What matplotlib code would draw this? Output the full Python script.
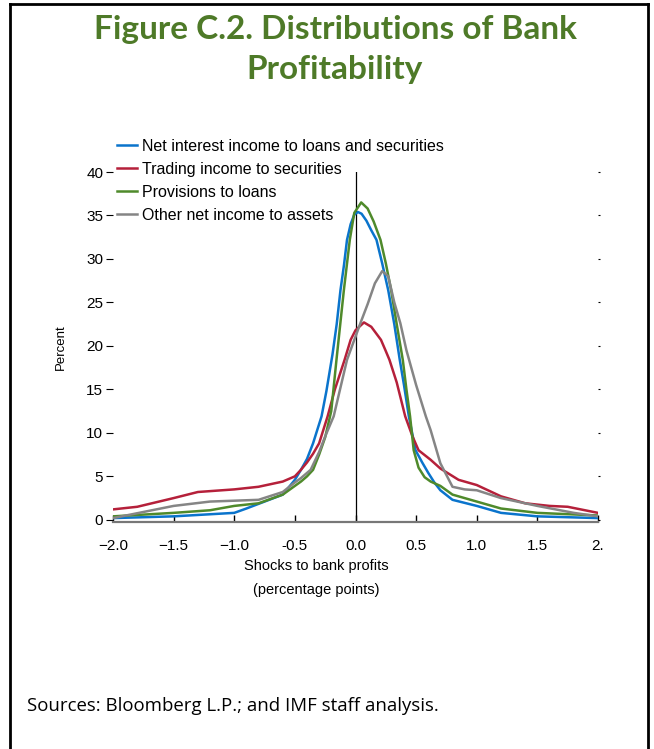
import matplotlib
matplotlib.use("Agg")
import matplotlib.pyplot as plt
from matplotlib.lines import Line2D

# ---- data ----
x_net = [-2.0, -1.5, -1.0, -0.9, -0.75, -0.6, -0.5, -0.45, -0.4, -0.35, -0.28, -0.24, -0.19, -0.155, -0.124,
         -0.095, -0.07, -0.04, -0.01, 0.02, 0.05, 0.09, 0.13, 0.173, 0.22, 0.27, 0.32, 0.365, 0.4, 0.44, 0.495,
         0.55, 0.6, 0.65, 0.7, 0.8, 1.0, 1.2, 1.5, 2.0]
y_net = [0.2, 0.4, 0.8, 1.3, 2.1, 2.9, 4.6, 5.75, 7.0, 8.8, 11.9, 14.8, 19.0, 22.5, 26.4,
         29.3, 32.2, 34.0, 35.1, 35.4, 35.2, 34.4, 33.3, 32.2, 29.5, 26.4, 22.5, 18.4, 15.5, 11.9, 8.0,
         6.6, 5.4, 4.3, 3.4, 2.3, 1.6, 0.8, 0.4, 0.2]

x_trd = [-2.0, -1.8, -1.5, -1.3, -1.0, -0.8, -0.6, -0.5, -0.45, -0.4, -0.35, -0.3, -0.23, -0.17, -0.09,
         -0.04, 0.0, 0.07, 0.13, 0.21, 0.247, 0.28, 0.34, 0.41, 0.47, 0.52, 0.62, 0.7, 0.85, 1.0, 1.2, 1.4,
         1.6, 1.75, 2.0]
y_trd = [1.2, 1.5, 2.5, 3.2, 3.5, 3.8, 4.4, 5.0, 5.75, 6.6, 7.6, 8.8, 11.9, 15.0, 18.4,
         20.7, 21.8, 22.7, 22.2, 20.7, 19.5, 18.4, 15.8, 11.9, 9.6, 8.0, 6.9, 5.9, 4.6, 4.0, 2.7, 1.9,
         1.6, 1.5, 0.8]

x_prv = [-2.0, -1.5, -1.2, -1.0, -0.8, -0.6, -0.5, -0.45, -0.4, -0.35, -0.3, -0.25, -0.2, -0.157, -0.096,
         -0.047, -0.01, 0.047, 0.1, 0.15, 0.206, 0.25, 0.294, 0.34, 0.39, 0.42, 0.45, 0.48, 0.52, 0.57, 0.62,
         0.7, 0.75, 0.8, 1.0, 1.2, 1.5, 2.0]
y_prv = [0.4, 0.8, 1.1, 1.6, 1.9, 2.9, 3.9, 4.4, 5.0, 5.75, 7.5, 9.5, 12.5, 18.4, 26.4,
         32.2, 35.3, 36.5, 35.8, 34.3, 32.2, 29.5, 26.4, 22.5, 18.4, 15.0, 11.9, 8.0, 6.0, 4.9, 4.4,
         3.9, 3.4, 2.9, 2.1, 1.3, 0.8, 0.5]

x_oth = [-2.0, -1.5, -1.2, -1.0, -0.8, -0.6, -0.5, -0.45, -0.37, -0.3, -0.25, -0.18, -0.07, 0.04, 0.1,
         0.16, 0.22, 0.27, 0.32, 0.37, 0.42, 0.5, 0.58, 0.62, 0.7, 0.8, 0.9, 1.0, 1.2, 1.5, 1.8, 2.0]
y_oth = [0.2, 1.6, 2.1, 2.2, 2.3, 3.2, 4.3, 4.8, 5.75, 7.8, 9.6, 11.9, 18.4, 22.6, 24.8,
         27.2, 28.6, 28.0, 25.0, 22.6, 19.5, 15.5, 11.9, 10.3, 6.5, 3.8, 3.5, 3.4, 2.5, 1.6, 0.8, 0.4]

series_labels = ["Net interest income to loans and securities",
                 "Trading income to securities",
                 "Provisions to loans",
                 "Other net income to assets"]
x_ticks = [-2.0, -1.5, -1.0, -0.5, 0.0, 0.5, 1.0, 1.5, 2.0]
x_ticklabels = ["\u22122.0", "\u22121.5", "\u22121.0", "-0.5", "0.0", "0.5", "1.0", "1.5", "2."]
y_ticks = [0, 5, 10, 15, 20, 25, 30, 35, 40]

colors = ["#0A74CC", "#B5203A", "#4F8A2B", "#858585"]

W, H = 654, 749
fig = plt.figure(figsize=(W / 100, H / 100), dpi=100)

def fx(px):
    return px / W

def fy(py):
    return 1 - py / H

# frame around figure
fig.add_artist(Line2D([fx(10), fx(10)], [0, fy(4)], color="black", lw=2))
fig.add_artist(Line2D([fx(10), fx(648)], [fy(4), fy(4)], color="black", lw=2))
fig.add_artist(Line2D([fx(648), fx(648)], [0, fy(4)], color="black", lw=2))

title_color = "#4E7A28"
fig.text(fx(335), fy(30), "Figure C.2. Distributions of Bank", ha="center", va="center",
         fontsize=24, fontweight="bold", color=title_color, family="Lato")
fig.text(fx(335), fy(70), "Profitability", ha="center", va="center",
         fontsize=24, fontweight="bold", color=title_color, family="Lato")

left, right, top, bottom = 113, 598, 172, 522
ax = fig.add_axes([fx(left), fy(bottom), (right - left) / W, (bottom - top) / H])
ax.set_xlim(-2.0, 2.0)
ax.set_ylim(-0.25, 40)

xs = [x_net, x_trd, x_prv, x_oth]
ys = [y_net, y_trd, y_prv, y_oth]
handles = []
for xv, yv, c, lab in zip(xs, ys, colors, series_labels):
    h, = ax.plot(xv, yv, color=c, lw=1.8, label=lab, solid_joinstyle="round")
    handles.append(h)

ax.axvline(0, color="black", lw=0.9, zorder=1)

for s in ["top", "right", "left"]:
    ax.spines[s].set_visible(False)
ax.spines["bottom"].set_color("#777777")
ax.spines["bottom"].set_linewidth(1.6)

tick_font = dict(family="Liberation Sans", size=11)
ax.set_xticks(x_ticks)
ax.set_xticklabels(x_ticklabels, fontdict=tick_font)
ax.tick_params(axis="x", direction="in", length=5, width=1, color="black", pad=12)
ax.set_yticks(y_ticks)
ax.set_yticklabels([str(v) for v in y_ticks], fontdict=tick_font)
ax.tick_params(axis="y", direction="out", length=5, width=0.8, color="black", pad=2,
               right=True, labelright=False)
# faint right ticks
for line in ax.yaxis.get_majorticklines()[1::2]:
    line.set_color("#C8C8C8")
    line.set_markersize(1.5)

ax.set_ylabel("Percent", family="Liberation Sans", fontsize=9.5, labelpad=4)
ax.yaxis.set_label_coords(-0.095, 0.5)

fig.text(fx(316), fy(566), "Shocks to bank profits", ha="center", va="center",
         family="Liberation Sans", fontsize=10.5)
fig.text(fx(316), fy(590), "(percentage points)", ha="center", va="center",
         family="Liberation Sans", fontsize=10.5)

leg = fig.legend(handles=handles, labels=series_labels, loc="upper left",
                 bbox_to_anchor=(fx(117), fy(139)), frameon=False,
                 prop=dict(family="Liberation Sans", size=11.5),
                 handlelength=1.25, handletextpad=0.3, labelspacing=0.5,
                 borderaxespad=0, borderpad=0)
for lh in leg.get_lines():
    lh.set_linewidth(1.8)

fig.text(fx(27), fy(706), "Sources: Bloomberg L.P.; and IMF staff analysis.", ha="left",
         va="center", family="Open Sans", fontsize=13.4)

fig.savefig("out.png", dpi=100)
